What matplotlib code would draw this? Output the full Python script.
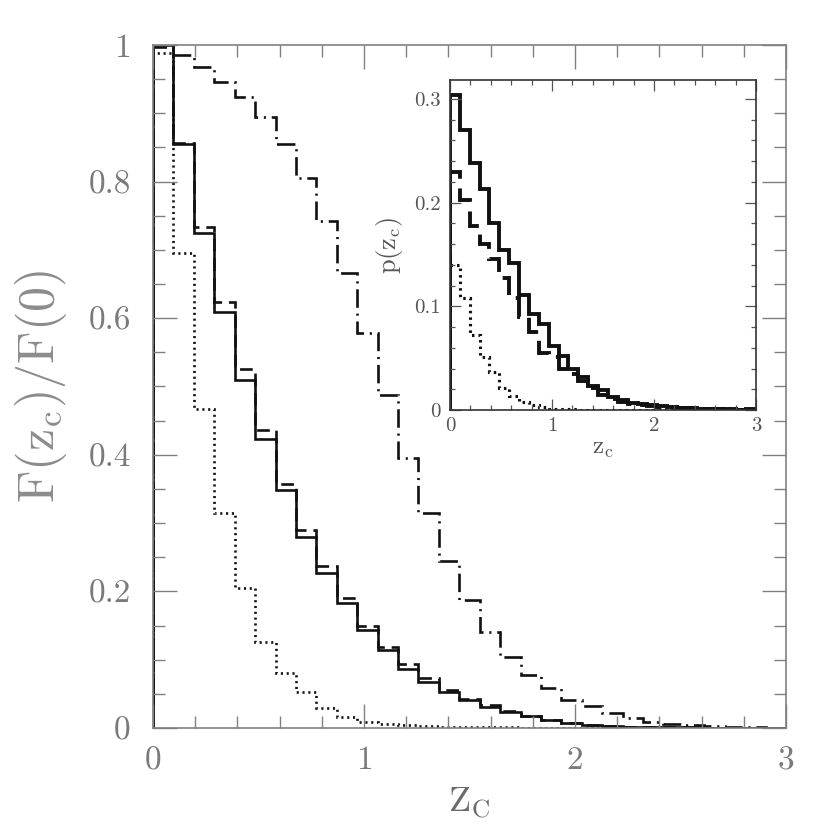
import numpy as np
import matplotlib
matplotlib.use("Agg")
import matplotlib.pyplot as plt
from matplotlib.ticker import MultipleLocator, FixedLocator, FixedFormatter

plt.rcParams['font.family'] = ['cmr10', 'DejaVu Serif']
plt.rcParams['mathtext.fontset'] = 'cm'
plt.rcParams['axes.formatter.use_mathtext'] = True

# ---- data (31 bins between 0 and 3) ----
n_bins = 31
z_min, z_max = 0.0, 3.0

main_solid = [1.0, 0.855, 0.725, 0.609, 0.51, 0.423, 0.348, 0.28, 0.227, 0.183,
              0.143, 0.114, 0.087, 0.068, 0.053, 0.041, 0.031, 0.024, 0.017, 0.011,
              0.007, 0.005, 0.003, 0.002, 0.0015, 0.001, 0.0008, 0.0005, 0.0003, 0.0002, 0.0001]
main_dashed = [1.0, 0.857, 0.733, 0.623, 0.525, 0.436, 0.357, 0.29, 0.237, 0.19,
               0.149, 0.119, 0.093, 0.073, 0.056, 0.043, 0.033, 0.025, 0.018, 0.012,
               0.008, 0.005, 0.003, 0.002, 0.0015, 0.001, 0.0008, 0.0005, 0.0003, 0.0002, 0.0001]
main_dotted = [0.988, 0.695, 0.467, 0.315, 0.205, 0.126, 0.08, 0.053, 0.03, 0.016,
               0.009, 0.006, 0.004, 0.003, 0.002, 0.0015, 0.001, 0.0008, 0.0005, 0.0004,
               0.0003, 0.0002, 0.0002, 0.0001, 0.0001, 0.0001, 0.0, 0.0, 0.0, 0.0, 0.0]
main_dashdot = [0.997, 0.985, 0.968, 0.946, 0.924, 0.895, 0.855, 0.805, 0.742, 0.666,
                0.578, 0.488, 0.396, 0.315, 0.245, 0.187, 0.14, 0.104, 0.078, 0.058,
                0.041, 0.032, 0.022, 0.015, 0.009, 0.006, 0.004, 0.003, 0.002, 0.001, 0.0005]

inset_solid = [0.304, 0.27, 0.238, 0.213, 0.18, 0.154, 0.1415, 0.111, 0.0926, 0.083,
               0.062, 0.052, 0.040, 0.032, 0.023, 0.019, 0.013, 0.0096, 0.0067, 0.0055,
               0.0045, 0.0035, 0.003, 0.002, 0.0015, 0.001, 0.001, 0.0007, 0.0005, 0.0003, 0.0005]
inset_dashed = [0.23, 0.203, 0.1775, 0.16, 0.146, 0.127, 0.108, 0.09, 0.0755, 0.055,
                0.051, 0.04, 0.035, 0.028, 0.021, 0.014, 0.011, 0.008, 0.006, 0.0045,
                0.0035, 0.003, 0.0025, 0.002, 0.0015, 0.001, 0.001, 0.0007, 0.0005, 0.0003, 0.0003]
inset_dotted = [0.14, 0.108, 0.072, 0.051, 0.037, 0.021, 0.0138, 0.008, 0.0048, 0.0027,
                0.0012, 0.0008, 0.0005, 0.0003, 0.0002, 0.0001, 0.0001, 0.0, 0.0, 0.0,
                0.0, 0.0, 0.0, 0.0, 0.0, 0.0, 0.0, 0.0, 0.0, 0.0, 0.0]

main_xticks = [0, 1, 2, 3]
main_xticklabels = ['0', '1', '2', '3']
main_yticks = [0, 0.2, 0.4, 0.6, 0.8, 1.0]
main_yticklabels = ['0', '0.2', '0.4', '0.6', '0.8', '1']
inset_xticks = [0, 1, 2, 3]
inset_xticklabels = ['0', '1', '2', '3']
inset_yticks = [0, 0.1, 0.2, 0.3]
inset_yticklabels = ['0', '0.1', '0.2', '0.3']

edges = np.linspace(z_min, z_max, n_bins + 1)

fig = plt.figure(figsize=(8.3, 8.3), dpi=100)

# ---- main axes ----
ax = fig.add_axes([153/830, 102/830, 633/830, 683/830])
lw = 1.9
ax.stairs(main_solid, edges, color='#111111', lw=lw, ls='-')
ax.stairs(main_dashed, edges, color='#111111', lw=lw, ls=(0, (4.8, 2.6)))
ax.stairs(main_dotted, edges, color='#111111', lw=lw, ls=(0, (0.8, 1.4)))
ax.stairs(main_dashdot, edges, color='#111111', lw=lw, ls=(0, (7, 2.2, 0.8, 2.2)))

ax.set_xlim(0, 3)
ax.set_ylim(0, 1)
gray = '#808080'
for s in ax.spines.values():
    s.set_color(gray)
    s.set_linewidth(1.2)
ax.xaxis.set_major_locator(FixedLocator(main_xticks))
ax.xaxis.set_major_formatter(FixedFormatter(main_xticklabels))
ax.yaxis.set_major_locator(FixedLocator(main_yticks))
ax.yaxis.set_major_formatter(FixedFormatter(main_yticklabels))
ax.xaxis.set_minor_locator(MultipleLocator(0.2))
ax.yaxis.set_minor_locator(MultipleLocator(0.05))
ax.tick_params(which='both', direction='in', top=True, right=True, color=gray, width=1.0,
               labelcolor='#7a7a7a', labelsize=24)
ax.tick_params(which='major', length=17)
ax.tick_params(which='minor', length=8.6)
ax.tick_params(axis='y', pad=16)
ax.tick_params(axis='x', pad=13)
ax.set_xlabel(r'$\mathrm{Z_C}$', fontsize=26, color='#6a6a6a', labelpad=8)
ax.set_ylabel(r'$\mathrm{F(z_c)/F(0)}$', fontsize=36, color='#8c8c8c', labelpad=14)

# ---- inset axes ----
ai = fig.add_axes([450/830, 420/830, 306/830, 330/830])
ilw = 2.8
ai.stairs(inset_solid, edges, baseline=0, color='#111111', lw=ilw, ls='-')
ai.stairs(inset_dashed, edges, baseline=0, color='#111111', lw=ilw, ls=(0, (6, 2.5)))
ai.stairs(inset_dotted, edges, baseline=None, color='#111111', lw=ilw * 0.8, ls=(0, (0.8, 1.3)))
ai.set_xlim(0, 3)
ai.set_ylim(0, 0.3183)
for s in ai.spines.values():
    s.set_color('#333333')
    s.set_linewidth(1.2)
ai.xaxis.set_major_locator(FixedLocator(inset_xticks))
ai.xaxis.set_major_formatter(FixedFormatter(inset_xticklabels))
ai.yaxis.set_major_locator(FixedLocator(inset_yticks))
ai.yaxis.set_major_formatter(FixedFormatter(inset_yticklabels))
ai.xaxis.set_minor_locator(MultipleLocator(0.2))
ai.yaxis.set_minor_locator(MultipleLocator(0.02))
ai.tick_params(which='both', direction='in', top=True, right=True, color='#555555', width=0.9,
               labelcolor='#555555', labelsize=15)
ai.tick_params(which='major', length=8)
ai.tick_params(which='minor', length=3.6)
ai.tick_params(axis='y', pad=7)
ai.tick_params(axis='x', pad=5)
ai.set_xlabel(r'$\mathrm{z_c}$', fontsize=18, color='#555555', labelpad=2)
ai.set_ylabel(r'$\mathrm{p(z_c)}$', fontsize=19, color='#555555', labelpad=6)

fig.savefig('out.png', dpi=100)
